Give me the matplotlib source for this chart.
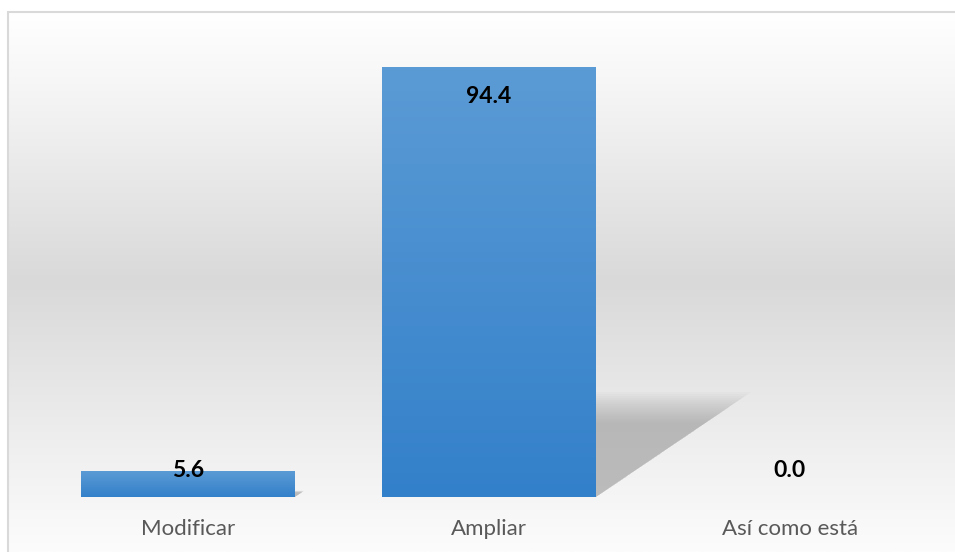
import numpy as np
import matplotlib
matplotlib.use('Agg')
import matplotlib.pyplot as plt
from matplotlib.patches import Polygon, Rectangle
from matplotlib.colors import LinearSegmentedColormap

plt.rcParams['font.family'] = ['Lato', 'DejaVu Sans']

# datos
categorias = ['Modificar', 'Ampliar', 'Así como está']
porcentajes = [5.6, 94.4, 0.0]

fig = plt.figure(figsize=(9.55, 5.52), dpi=100)

# fondo del área del gráfico (degradado blanco-gris-blanco)
bg = fig.add_axes([8 / 955, 0, 1 - 8 / 955, 1 - 12 / 552], zorder=0)
grad_cmap = LinearSegmentedColormap.from_list(
    'fondo', [(0.0, '#ffffff'), (0.12, '#f7f7f7'), (0.5, '#d9d9d9'),
              (0.85, '#f2f2f2'), (1.0, '#fcfcfc')])
bg.imshow(np.linspace(0, 1, 256).reshape(-1, 1), aspect='auto', cmap=grad_cmap,
          extent=[0, 1, 0, 1], origin='upper')
bg.set_xlim(0, 1)
bg.set_ylim(0, 1)
bg.axis('off')
bg.add_patch(Rectangle((0, -0.2), 1.2, 1.2, fill=False, edgecolor='#d9d9d9',
                       linewidth=1.5, transform=bg.transAxes, clip_on=False))

ax = fig.add_axes([37.5 / 955, 55 / 552, 903 / 955, 455.5 / 552], zorder=1)
ax.patch.set_visible(False)

ancho = 0.71
x = np.arange(len(categorias))
barras = ax.bar(x, porcentajes, width=ancho, color='none', zorder=3)

# sombra en perspectiva detrás de cada barra (difuminada por capas)
for rect, v in zip(barras, porcentajes):
    if v <= 0:
        continue
    xr = rect.get_x() + rect.get_width()
    alto = v * 0.237
    dx = v * 0.0053
    n = 16
    for k in range(n):
        f = 1.03 - k * 0.02
        tri = Polygon([(xr, 0), (xr + dx * f, alto * f), (xr, alto * f)],
                      closed=True, facecolor='#8f8f8f', edgecolor='none',
                      alpha=0.045, zorder=2)
        ax.add_patch(tri)

# relleno degradado de las barras
bar_cmap = LinearSegmentedColormap.from_list('barra', ['#3380ca', '#5b9bd5'])
for rect, v in zip(barras, porcentajes):
    if v <= 0:
        continue
    x0 = rect.get_x()
    img = ax.imshow(np.linspace(0, 1, 128).reshape(-1, 1), cmap=bar_cmap,
                    aspect='auto', origin='lower',
                    extent=[x0, x0 + rect.get_width(), 0, v], zorder=3)
    img.set_clip_path(rect)

ax.set_xlim(-0.5, len(categorias) - 0.5)
ax.set_ylim(0, 100)

# etiquetas de datos
for xi, v in zip(x, porcentajes):
    y_lab = max(v - 6.4, 5.9)
    ax.text(xi, y_lab, f'{v:.1f}', ha='center', va='center', fontsize=16.5,
            fontweight='bold', color='black', zorder=5)

ax.set_xticks(x)
ax.set_xticklabels(categorias, fontsize=16, color='#595959')
ax.tick_params(axis='x', length=0, pad=16)
ax.set_yticks([])
for s in ax.spines.values():
    s.set_visible(False)

fig.savefig('out.png', dpi=100)
